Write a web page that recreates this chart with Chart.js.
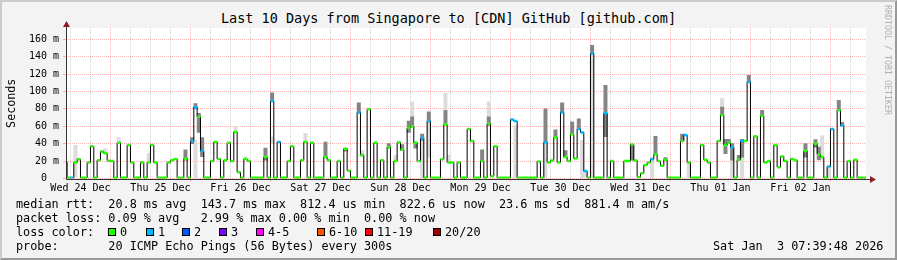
<!DOCTYPE html>
<html>
<head>
<meta charset="utf-8">
<script src="https://cdn.jsdelivr.net/npm/chart.js@4.4.1/dist/chart.umd.min.js"></script>
<style>
html, body { margin: 0; padding: 0; }
body { width: 897px; height: 260px; background: #f3f3f3; position: relative; overflow: hidden;
       font-family: 'DejaVu Sans Mono', monospace; color: #000; }
#frame { position: absolute; left: 0; top: 0; width: 897px; height: 260px; box-sizing: border-box;
         border: 2px solid; border-color: #cbcbcb #999 #999 #cbcbcb; }
#plot { position: absolute; left: 0; top: 0; width: 897px; height: 200px; }
#title { position: absolute; left: 0; top: 10px; width: 897px; text-align: center; font-size: 13.5px; line-height: 17px; white-space: pre; }
.row { position: absolute; left: 16px; font-size: 11.8px; line-height: 14px; white-space: pre; }
.box { position: absolute; top: 228px; width: 6px; height: 6px; border: 1px solid #000; }
.lbl { position: absolute; top: 225px; font-size: 11.8px; line-height: 14px; white-space: pre; }
#mark { position: absolute; left: 883px; top: 5px; writing-mode: vertical-rl; font-size: 8.3px; color: #b0b0b0; white-space: pre; }
</style>
</head>
<body>
<div id="frame"></div>
<div id="title">Last 10 Days from Singapore to [CDN] GitHub [github.com]</div>
<div id="plot"><canvas id="chart"></canvas></div>
<div id="mark">RRDTOOL / TOBI OETIKER</div>
<div class="row" style="top:197px">median rtt:  20.8 ms avg  143.7 ms max  812.4 us min  822.6 us now  23.6 ms sd  881.4 m am/s</div>
<div class="row" style="top:211px">packet loss: 0.09 % avg   2.99 % max 0.00 % min  0.00 % now</div>
<div class="row" style="top:225px">loss color:</div>
<div class="row" style="top:239px">probe:       20 ICMP Echo Pings (56 Bytes) every 300s</div>
<div class="row" style="top:239px; left:713px">Sat Jan  3 07:39:48 2026</div>
<div id="loss"></div>
<script>
// time axis: hours after Wed 24 Dec 00:00, one median per hour
var startHour = 7;
var endHour = 247.66;   // Sat Jan 3 07:39:48
var dayLabels = ["Wed 24 Dec", "Thu 25 Dec", "Fri 26 Dec", "Sat 27 Dec", "Sun 28 Dec",
    "Mon 29 Dec", "Tue 30 Dec", "Wed 31 Dec", "Thu 01 Jan", "Fri 02 Jan"];

// median rtt in ms
var median = [
    19, 0.8, 0.8, 18.5, 22, 0.8, 0.8, 18.5, 37, 0.8, 21, 31, 29, 20.5, 20, 0.8, 41,
    0.8, 0.8, 38.5, 18.5, 0.8, 0.8, 18.5, 0.8, 18.5, 38.5, 18.5, 0.8, 0.8, 0.8, 18.5, 21, 22.5, 0.8, 0.8, 22.7, 0.8, 43, 82, 71,
    31.5, 0.8, 0.8, 20, 42, 22.3, 0.8, 21, 41, 20, 53.5, 7.3, 0.8, 22.3, 20, 0.8, 0.8, 0.8, 0.8, 24.6, 0.8, 89, 0.8, 42,
    0.8, 0.8, 20, 37, 0.8, 0.8, 21, 42, 0.8, 41, 0.8, 0.8, 0.8, 24.6, 21, 0.8, 0.8, 20, 0.8, 34, 9, 0.8, 0.8, 76,
    27, 0.8, 79.6, 0.8, 41, 0.8, 21, 0.8, 36, 0.8, 20, 41.5, 33, 0.8, 58, 60, 41, 20, 46.5, 0.8, 66, 0.8, 0.8, 0.8,
    22, 62, 18.5, 18.5, 0.8, 18.5, 0.8, 0.8, 57, 43, 0.8, 0.8, 20, 0.8, 63, 2.7, 37, 0.8, 0.8, 0.8, 0.8, 67.7, 66, 0.8,
    0.8, 0.8, 0.8, 0.8, 0.8, 19.6, 0.8, 41.5, 18.5, 20.8, 47, 18.5, 76, 24.6, 20, 50.8, 23, 57, 53, 8.5, 0.8, 143.7, 0.8, 0.8,
    0.8, 75, 0.8, 20, 0.8, 0.8, 0.8, 20, 20, 39, 20.8, 1.5, 6, 15.4, 18.5, 22, 27.7, 20, 14.6, 21.5, 0.8, 0.8, 0.8, 0.8,
    43, 50, 18.5, 0.8, 0.8, 0.8, 38.5, 21.5, 18.5, 0.8, 0.8, 43, 73, 38.5, 41, 36, 0.8, 21.5, 43, 43, 111, 0.8, 48.5, 0.8,
    72, 18.5, 20, 0.8, 38.5, 13, 25.4, 20, 0.8, 22.3, 21, 0.8, 0.8, 31.5, 0.8, 0.8, 40, 27.7, 24.6, 0.8, 13.8, 57, 0.8, 78.5,
    61, 0.8, 20, 0.8, 21.5, 0.8, 0.8, 0.8
];

// hours where 1 of 20 pings was lost
var lossOneHours = [9, 45, 46, 48, 69, 71, 95, 114, 116, 141, 142, 151, 156, 161, 162, 163, 165, 169,
    183, 193, 207, 210, 212, 236, 237, 240];

// smoke [hour, low ms, high ms]
var lightSmoke = [[10, 1.5, 38], [19, 28.5, 34], [23, 41, 47], [32, 19, 29], [46, 0.8, 44], [58, 53, 60],
    [61, 22, 25], [69, 40, 48], [79, 42, 52], [96, 24.6, 32], [106, 21, 26.5], [111, 71, 88], [114, 0.8, 44],
    [116, 24.6, 65], [121, 78, 98], [122, 18.5, 27], [134, 71, 88], [142, 0.8, 61], [151, 0.8, 41.5],
    [162, 0.8, 44], [163, 1.5, 7.3], [165, 0.8, 143], [183, 0.8, 24.6], [194, 0.8, 18.5], [204, 82, 92],
    [207, 0.8, 21], [210, 0.8, 24.6], [234, 21, 49], [236, 0.8, 13.8]];
var darkSmoke = [[43, 21, 33], [45, 40, 47], [46, 80, 86], [47, 53, 75], [48, 25, 47], [67, 21, 35],
    [69, 90, 98.5], [85, 24.6, 42], [91, 31.5, 35], [95, 75, 87], [104, 35, 40], [108, 32, 39], [110, 53, 66],
    [111, 59, 71], [112, 35, 42], [114, 44, 51], [116, 65, 76.5], [121, 63, 78], [132, 20, 33], [134, 61, 71],
    [151, 41.5, 80], [154, 47, 56], [156, 76, 87], [157, 24.6, 32], [159, 51, 65], [161, 57, 68.5],
    [165, 143, 153], [169, 48, 107], [177, 21, 39], [184, 27.7, 48.5], [187, 21, 24], [192, 43, 51],
    [204, 73, 82], [205, 28.5, 45], [206, 40, 45], [207, 21, 40], [209, 21.5, 26.5], [210, 24.6, 45],
    [212, 111, 118.5], [216, 72, 78.5], [229, 24.6, 40], [232, 36, 44.6], [233, 21.5, 36], [239, 78.5, 90],
    [240, 61, 64.6]];

var lossLabels = ["0", "1", "2", "3", "4-5", "6-10", "11-19", "20/20"];
var lossColors = ["#26ff00", "#00b8ff", "#0059ff", "#7e00ff", "#ff00ff", "#ff5500", "#ff0000", "#a10000"];

// loss colour legend
var boxX = [108, 146, 182, 219, 256, 317, 365, 433];
var lossDiv = document.getElementById('loss');
lossLabels.forEach(function (t, i) {
    var b = document.createElement('span');
    b.className = 'box';
    b.style.left = boxX[i] + 'px';
    b.style.background = lossColors[i];
    lossDiv.appendChild(b);
    var l = document.createElement('span');
    l.className = 'lbl';
    l.style.left = (boxX[i] + 12) + 'px';
    l.textContent = t;
    lossDiv.appendChild(l);
});

var medianData = median.map(function (v, i) { return {x: startHour + i, y: v}; });
medianData.push({x: endHour, y: median[median.length - 1]});

var markerData = [];
median.forEach(function (v, i) {
    markerData.push({x: startHour + i, y: v}, {x: startHour + i + 1, y: v}, {x: startHour + i + 1, y: null});
});

function smokeBars(list) {
    return list.map(function (s) { return {x: s[0] + 0.5, y: [s[1], s[2]]}; });
}

var majorGrid = 'rgba(255,70,70,0.4)';
var minorGrid = 'rgba(140,140,140,0.4)';

var bgPlugin = {
    id: 'bg',
    beforeDraw: function (chart) {
        var a = chart.chartArea, c = chart.ctx;
        c.save();
        c.fillStyle = '#fff';
        c.fillRect(a.left, a.top, a.right - a.left, a.bottom - a.top);
        c.restore();
    }
};

var axesPlugin = {
    id: 'axes',
    afterDraw: function (chart) {
        var a = chart.chartArea, c = chart.ctx;
        var x0 = Math.round(a.left) + 0.5, y0 = Math.round(a.bottom) + 0.5;
        c.save();
        c.strokeStyle = '#333';
        c.lineWidth = 1;
        c.beginPath();
        c.moveTo(x0, y0); c.lineTo(x0, a.top - 4);
        c.moveTo(x0, y0); c.lineTo(a.right + 4, y0);
        c.stroke();
        c.fillStyle = '#8e1f1f';
        c.beginPath();
        c.moveTo(x0, a.top - 7); c.lineTo(x0 - 3.5, a.top - 1); c.lineTo(x0 + 3.5, a.top - 1);
        c.closePath(); c.fill();
        c.beginPath();
        c.moveTo(a.right + 10, y0); c.lineTo(a.right + 4, y0 - 3.5); c.lineTo(a.right + 4, y0 + 3.5);
        c.closePath(); c.fill();
        c.restore();
    }
};

Chart.defaults.font.family = "'DejaVu Sans Mono', monospace";
Chart.defaults.color = '#000';

var ctx = document.getElementById('chart').getContext('2d');
var chart = new Chart(ctx, {
    type: 'line',
    data: {
        datasets: [{
            type: 'line',
            label: 'loss',
            data: markerData,
            borderColor: lossColors[0],
            borderWidth: 2.5,
            pointRadius: 0,
            spanGaps: false,
            segment: {
                borderColor: function (c) {
                    var h = startHour + Math.floor(c.p0DataIndex / 3);
                    return lossOneHours.indexOf(h) >= 0 ? lossColors[1] : lossColors[0];
                }
            },
            order: 0
        }, {
            type: 'line',
            label: 'median rtt',
            data: medianData,
            stepped: true,
            borderColor: '#000',
            borderWidth: 1,
            pointRadius: 0,
            order: 1
        }, {
            type: 'bar',
            label: 'smoke',
            data: smokeBars(darkSmoke),
            backgroundColor: '#848484',
            borderWidth: 0,
            grouped: false,
            categoryPercentage: 1,
            barPercentage: 1,
            order: 2
        }, {
            type: 'bar',
            label: 'smoke light',
            data: smokeBars(lightSmoke),
            backgroundColor: '#dcdcdc',
            borderWidth: 0,
            grouped: false,
            categoryPercentage: 1,
            barPercentage: 1,
            order: 3
        }]
    },
    options: {
        animation: false,
        responsive: true,
        maintainAspectRatio: false,
        layout: {padding: {left: 0, right: 31, top: 28, bottom: 0}},
        plugins: {legend: {display: false}, tooltip: {enabled: false}},
        scales: {
            x: {
                type: 'linear',
                min: endHour - 240,
                max: endHour,
                offset: false,
                afterBuildTicks: function (s) {
                    var t = [];
                    for (var h = 12; h <= s.max; h += 6) t.push({value: h});
                    s.ticks = t;
                },
                afterFit: function (s) { s.height = 21.5; },
                ticks: {
                    autoSkip: false, maxRotation: 0, padding: 1, font: {size: 10},
                    callback: function (v) { return (v - 12) % 24 === 0 ? dayLabels[(v - 12) / 24] : ''; }
                },
                grid: {
                    color: function (c) { return c.tick && c.tick.value % 24 === 0 ? majorGrid : minorGrid; },
                    tickColor: function (c) { return c.tick && c.tick.value % 24 === 0 ? majorGrid : 'transparent'; },
                    tickLength: 3
                },
                border: {display: false, dash: [1, 1]}
            },
            y: {
                min: 0,
                max: 173,
                afterBuildTicks: function (s) {
                    var t = [];
                    for (var v = 0; v <= 170; v += 10) t.push({value: v});
                    s.ticks = t;
                },
                afterFit: function (s) { s.width = 66; },
                ticks: {
                    padding: 4, font: {size: 10},
                    callback: function (v) { return v % 20 !== 0 ? '' : (v === 0 ? '0  ' : v + ' m'); }
                },
                grid: {
                    color: function (c) { return c.tick && c.tick.value % 20 === 0 ? majorGrid : minorGrid; },
                    tickColor: function (c) { return c.tick && c.tick.value % 20 === 0 ? majorGrid : 'transparent'; },
                    tickLength: 3
                },
                border: {display: false, dash: [1, 1]},
                title: {display: true, text: 'Seconds', font: {size: 11.7}, padding: {top: 5, bottom: 0}}
            }
        }
    },
    plugins: [bgPlugin, axesPlugin]
});
</script>
</body>
</html>
